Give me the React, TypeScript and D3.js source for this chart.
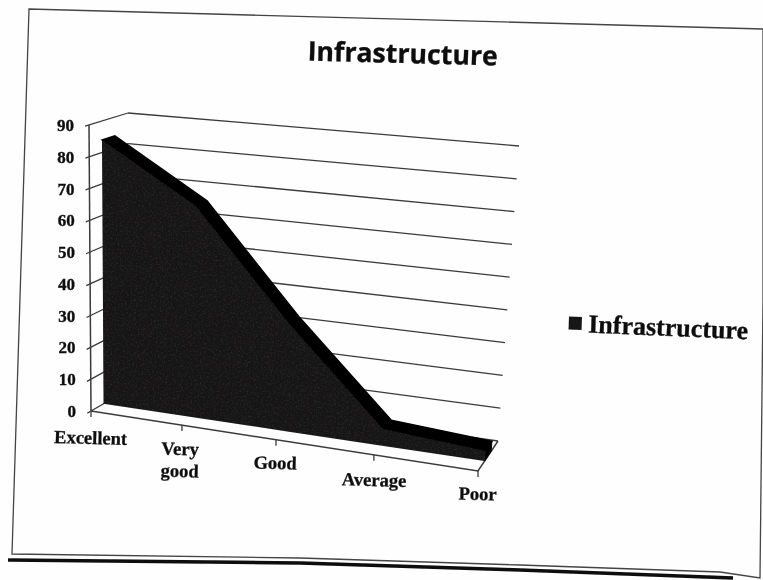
import React from "react";
import * as d3 from "d3";

const categories = ["Excellent", "Very good", "Good", "Average", "Poor"];
const values = [84, 66, 33, 5, 3];
const ticks = [0, 10, 20, 30, 40, 50, 60, 70, 80, 90];
const seriesName = "Infrastructure";

type P = [number, number];
const lerp = (a: P, b: P, t: number): P => [a[0] + (b[0] - a[0]) * t, a[1] + (b[1] - a[1]) * t];

// perspective box of the 3-D chart
const FL0: P = [91, 411], FL90: P = [89, 125];
const BL0: P = [129, 389], BL90: P = [128, 113];
const FR0: P = [478, 471], FR90: P = [498, 161];
const BR0: P = [498, 441], BR90: P = [519, 146];

const catT = d3.scaleLinear().domain([0, 1, 2, 3, 4]).range([0, 0.235, 0.478, 0.731, 1]);
const valV = d3.scaleLinear().domain([0, 90]).range([0, 1]);

function project(t: number, d: number, v: number): P {
  const f = lerp(lerp(FL0, FL90, v), lerp(FR0, FR90, v), t);
  const b = lerp(lerp(BL0, BL90, v), lerp(BR0, BR90, v), t);
  return lerp(f, b, d);
}

const line = d3.line<P>();
const D_FRONT = 0.33, D_BACK = 0.66;

export default function App() {
  const idx = categories.map((_, i) => i);
  const frontTop = idx.map((i) => project(catT(i), D_FRONT, valV(values[i])));
  const backTop = idx.map((i) => project(catT(i), D_BACK, valV(values[i])));
  const frontBase = idx.map((i) => project(catT(i), D_FRONT, 0));
  const frontPoly = [...frontTop, ...frontBase.slice().reverse()];
  const topPoly = [...frontTop, ...backTop.slice().reverse()];
  const endPoly = [frontTop[4], backTop[4], project(1, D_BACK, 0), frontBase[4]];
  const axisStroke = "#3a3a3a";
  return (
    <svg
      width={763}
      height={580}
      viewBox="0 0 763 580"
      style={{ position: "fixed", left: 0, top: 0, background: "#fefefe" }}
    >
      <defs>
        <filter id="scan" x="-5%" y="-5%" width="110%" height="110%">
          <feGaussianBlur stdDeviation="0.6" />
        </filter>
        <filter id="grain" x="0" y="0" width="100%" height="100%" colorInterpolationFilters="sRGB">
          <feTurbulence type="fractalNoise" baseFrequency="0.55" numOctaves={2} seed={4} result="n" />
          <feColorMatrix in="n" type="matrix" values="0 0 0 0 0.28  0 0 0 0 0.27  0 0 0 0 0.27  0.9 0 0 0 -0.36" result="g" />
          <feComposite in="g" in2="SourceAlpha" operator="in" result="gc" />
          <feMerge>
            <feMergeNode in="SourceGraphic" />
            <feMergeNode in="gc" />
          </feMerge>
        </filter>
      </defs>
      <g filter="url(#scan)">
        {/* slide frame */}
        <path d="M763,29 L29,9 L12,554 L300,558 L520,565 L720,572 L760,578 L763,300 L763,29" fill="none" stroke="#444" strokeWidth={1.3} />
        <path d="M8,560 L300,563 L520,570 L733,578" fill="none" stroke="#0a0a0a" strokeWidth={3.6} />

        {/* back wall gridlines and left depth ticks */}
        {ticks.map((v) => {
          const u = valV(v);
          return (
            <g key={v}>
              <path d={line([project(0, 1, u), project(1, 1, u)])!} fill="none" stroke={axisStroke} strokeWidth={1.3} />
              <path d={line([project(0, -0.1, u), project(0, 1, u)])!} fill="none" stroke={axisStroke} strokeWidth={1.3} />
            </g>
          );
        })}
        <path d={line([project(0, 0, 0), project(0, 0, 1)])!} fill="none" stroke={axisStroke} strokeWidth={1.5} />

        {/* floor */}
        <path d={line([project(0, 0, 0), project(1, 0, 0), project(1, 1, 0)])!} fill="none" stroke={axisStroke} strokeWidth={1.5} />
        {idx.map((i) => {
          const p = project(catT(i), 0, 0);
          const q: P = [p[0], p[1] + 6];
          return <path key={i} d={line([p, q])!} fill="none" stroke={axisStroke} strokeWidth={1.3} />;
        })}

        {/* area */}
        <path d={line(topPoly)! + "Z"} fill="#060606" stroke="#060606" strokeWidth={1.5} />
        <path d={line(endPoly)! + "Z"} fill="#060606" stroke="#060606" strokeWidth={1} />
        <path d={line(frontPoly)! + "Z"} fill="#141313" filter="url(#grain)" />

        {/* y tick labels */}
        {ticks.map((v) => {
          const p = project(0, 0, valV(v));
          return (
            <text key={v} x={p[0] - 15} y={p[1] + 6} textAnchor="end" fontFamily="'Liberation Serif'" fontWeight="bold" fontSize={17} fill="#111" stroke="#111" strokeWidth={0.35}>
              {v}
            </text>
          );
        })}

        {/* category labels */}
        <g fontFamily="'Liberation Serif'" fontWeight="bold" fontSize={18.5} fill="#111" stroke="#111" strokeWidth={0.3} textAnchor="middle">
          <text transform="translate(90.5,444) rotate(1.5)">{categories[0]}</text>
          <text transform="translate(180,455) rotate(1.5)">
            <tspan x={0} dy={0}>Very</tspan>
            <tspan x={0} dy={22}>good</tspan>
          </text>
          <text transform="translate(275,469) rotate(1.5)">{categories[2]}</text>
          <text transform="translate(374,486) rotate(1.5)">{categories[3]}</text>
          <text transform="translate(477.5,500) rotate(1.5)">{categories[4]}</text>
        </g>

        {/* title */}
        <text transform="translate(402.5,63) rotate(1.5)" textAnchor="middle" fontFamily="'Open Sans'" fontWeight="bold" fontSize={26.7} fill="#0c0c0c" stroke="#0c0c0c" strokeWidth={0.3}>
          {seriesName}
        </text>

        {/* legend */}
        <rect transform="translate(569,316.5) rotate(2)" width={13} height={13} fill="#161616" />
        <text transform="translate(588,332.5) rotate(2.4)" fontFamily="'Liberation Serif'" fontWeight="bold" fontSize={26} fill="#0c0c0c" stroke="#0c0c0c" strokeWidth={0.3}>
          {seriesName}
        </text>
      </g>
    </svg>
  );
}
